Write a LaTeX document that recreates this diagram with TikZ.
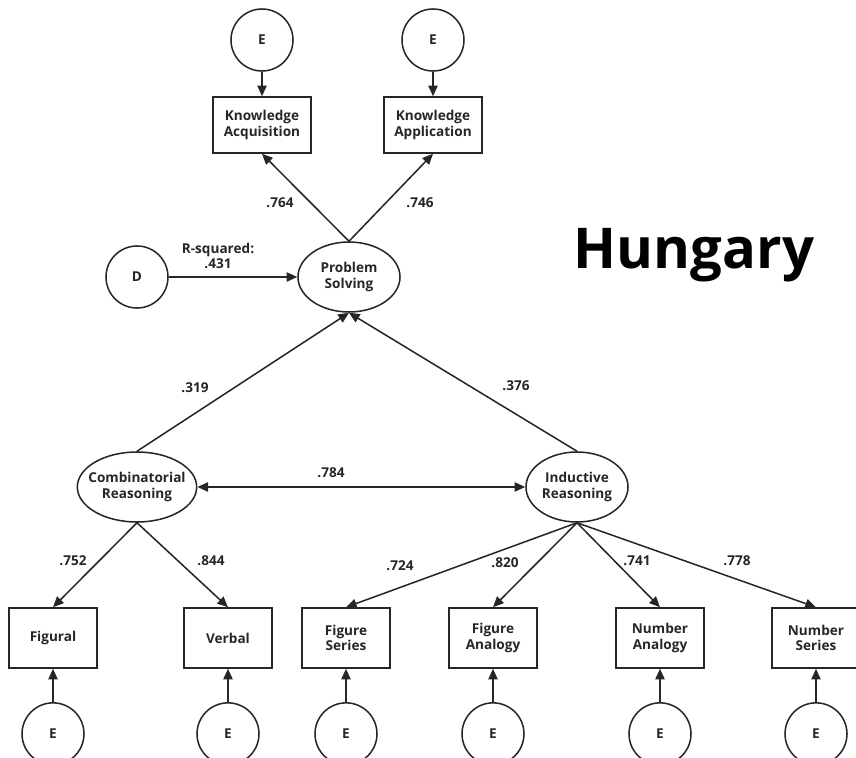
\documentclass[tikz,border=0pt]{standalone}
\usepackage{fontspec}
\setmainfont{Open Sans}
\usetikzlibrary{positioning,shapes.geometric,arrows.meta}

\begin{document}
\begin{tikzpicture}[
	x=0.03cm, y=-0.03cm,
	line width=1.3pt,
	every node/.style={font=\fontsize{11.6}{13}\selectfont\bfseries, text=black!85},
	obs/.style={rectangle, draw=black!85, align=center, inner sep=0pt,
		minimum width=2.64cm, minimum height=1.8cm},
	obswide/.style={obs, minimum width=2.94cm, minimum height=1.68cm},
	lat/.style={ellipse, draw=black!85, align=center, inner sep=0pt,
		minimum width=3.06cm, minimum height=2.1cm},
	err/.style={circle, draw=black!85, inner sep=0pt, minimum size=1.86cm},
	arr/.style={draw=black!85, -{Triangle[length=3.2mm,width=2.8mm]}},
	dblarr/.style={draw=black!85, {Triangle[length=3.2mm,width=2.8mm]}-{Triangle[length=3.2mm,width=2.8mm]}}
	]
	\useasboundingbox (0,0) rectangle (856,758);

	% top part
	\node[lat] (ps) at (349,277) {Problem\\Solving};
	\node[obswide] (ka) at (262,125) {Knowledge\\Acquisition};
	\node[obswide] (kb) at (433,125) {Knowledge\\Application};
	\node[err] (eka) at (262,40) {E};
	\node[err] (ekb) at (433,40) {E};
	\node[err] (d) at (137,277) {D};
	\node (lka) at (280,203) {.764};
	\node (lkb) at (420,203) {.746};
	\node[align=center] (rsq) at (218,256) {R-squared:\\.431};
	\node[font=\fontsize{48}{54}\selectfont\bfseries, text=black] (title) at (694,255) {Hungary};

	% latent factors
	\node[lat, minimum width=3.42cm, inner xsep=-5.5pt] (cr) at (137,487) {Combinatorial\\Reasoning};
	\node[lat] (ir) at (577,487) {Inductive\\Reasoning};
	\node (lcr) at (195,388) {.319};
	\node (lir) at (516,386) {.376};
	\node (lcor) at (331,473) {.784};

	% indicators
	\node[obs] (fig) at (53,638) {Figural};
	\node[obs] (verb) at (228,638) {Verbal};
	\node[obs] (fs) at (346,638) {Figure\\Series};
	\node[obs] (fa) at (493,638) {Figure\\Analogy};
	\node[obs] (na) at (660,638) {Number\\Analogy};
	\node[obs] (ns) at (816,638) {Number\\Series};
	\foreach \n in {fig,verb,fs,fa,na,ns} {
		\node[err, below=1.0cm of \n] (e\n) {E};
		\draw[arr] (e\n) -- (\n);
	}
	\node (lfig) at (73,561) {.752};
	\node (lverb) at (211,561) {.844};
	\node (lfs) at (400,566) {.724};
	\node (lfa) at (505,563) {.820};
	\node (lna) at (637,561) {.741};
	\node (lns) at (737,561) {.778};

	% paths
	\draw[arr] (eka) -- (ka);
	\draw[arr] (ekb) -- (kb);
	\draw[arr] (ps.north) -- (ka.south);
	\draw[arr] (ps.north) -- (kb.south);
	\draw[arr] (d) -- (ps);
	\draw[arr] (cr.north) -- (ps.south);
	\draw[arr] (ir.north) -- (ps.south);
	\draw[dblarr] (cr) -- (ir);
	\draw[arr] (cr.south) -- (fig.north);
	\draw[arr] (cr.south) -- (verb.north);
	\foreach \n in {fs,fa,na,ns}
		\draw[arr] (ir.south) -- (\n.north);
\end{tikzpicture}
\end{document}
